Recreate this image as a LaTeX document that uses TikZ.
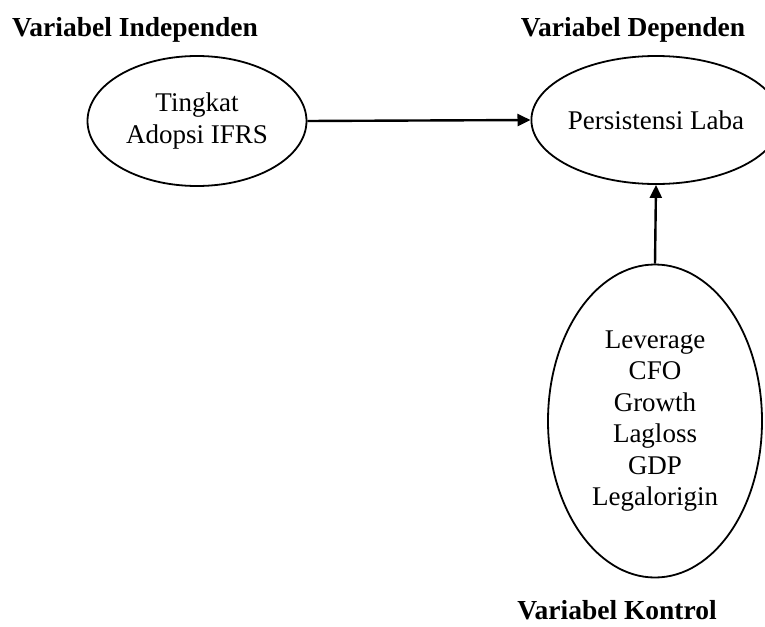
\documentclass[tikz,border=0pt]{standalone}
\usepackage{fontspec}
\setmainfont{Liberation Serif}
\usetikzlibrary{arrows.meta,positioning,shapes.geometric}
\tikzset{
  >={Triangle[length=13pt,width=12pt]},
  var/.style  ={draw, ellipse, line width=1.8pt, inner sep=0pt, align=center,
                font=\fontsize{27}{31.5}\selectfont},
  ttl/.style  ={anchor=base, font=\fontsize{27.5}{30}\selectfont\bfseries},
  link/.style ={->, line width=2.4pt}
}

\begin{document}
\begin{tikzpicture}[x=1pt,y=-1pt]
\useasboundingbox (0,0) rectangle (765,626);
% titles
\node[ttl] (tind) at (135,37) {Variabel Independen};
\node[ttl] (tdep) at (633,37) {Variabel Dependen};
\node[ttl] (tkon) at (617,619) {Variabel Kontrol};
% variables
\node[var, minimum width=219pt, minimum height=130pt] (ifrs) at (197,121)
  {Tingkat\\Adopsi IFRS};
\node[var, minimum width=216pt, minimum height=128pt] (laba) at (656,120)
  {Persistensi Laba};
\node[var, minimum width=214pt, minimum height=313pt] (ctrl) at (655,421)
  {Leverage\\CFO\\Growth\\Lagloss\\GDP\\Legalorigin};
% paths
\draw[link] (ifrs.east) -- (laba.west);
\draw[link] (ctrl.north) -- (laba.south);
\end{tikzpicture}
\end{document}
